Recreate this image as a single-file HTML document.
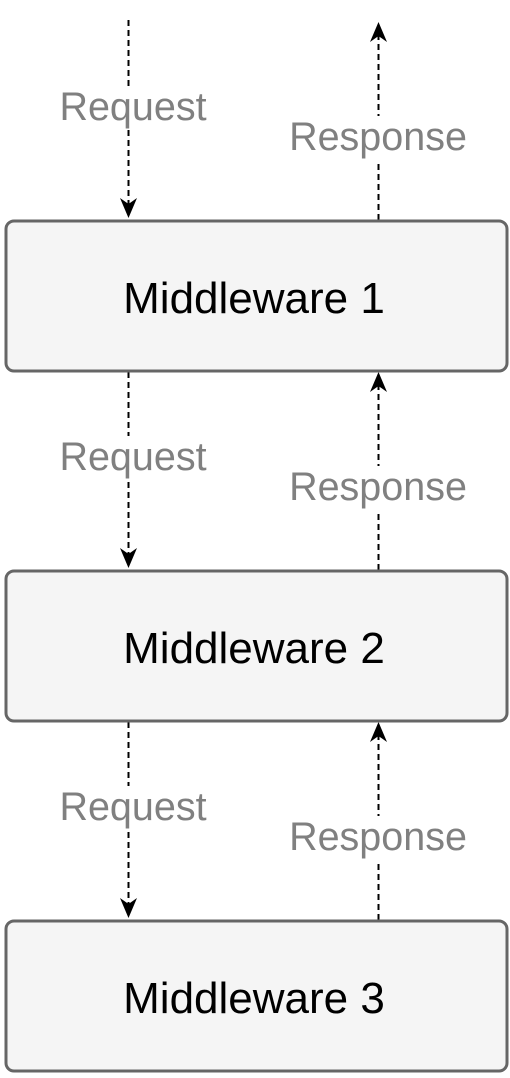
<!DOCTYPE html>
<html><head><meta charset="utf-8"><style>
html,body{margin:0;padding:0;background:#fff;}
svg{display:block;}
</style></head><body>
<svg width="510" height="1078" viewBox="0 0 510 1078" xmlns="http://www.w3.org/2000/svg">
<g stroke="#000" stroke-width="2" stroke-dasharray="6 4" fill="none">
  <line x1="128.5" y1="20" x2="128.5" y2="206"/>
  <line x1="378.5" y1="220" x2="378.5" y2="34"/>
  <line x1="128.5" y1="372" x2="128.5" y2="556"/>
  <line x1="378.5" y1="570" x2="378.5" y2="384"/>
  <line x1="128.5" y1="722" x2="128.5" y2="906"/>
  <line x1="378.5" y1="920" x2="378.5" y2="734"/>
</g>
<g fill="#000">
  <path d="M128.5 218 L120 198 L128.5 204 L137 198 Z"/>
  <path d="M378.5 22 L370 42 L378.5 36 L387 42 Z"/>
  <path d="M128.5 568 L120 548 L128.5 554 L137 548 Z"/>
  <path d="M378.5 372 L370 392 L378.5 386 L387 392 Z"/>
  <path d="M128.5 918 L120 898 L128.5 904 L137 898 Z"/>
  <path d="M378.5 722 L370 742 L378.5 736 L387 742 Z"/>
</g>
<g fill="#f5f5f5" stroke="#666" stroke-width="3">
  <rect x="6" y="221" width="501" height="150" rx="8"/>
  <rect x="6" y="571" width="501" height="150" rx="8"/>
  <rect x="6" y="921" width="501" height="150" rx="8"/>
</g>
<g font-family="Liberation Sans, Arial, sans-serif" font-size="39.5" fill="#808080" text-anchor="middle">
  <rect x="56" y="86" width="154" height="44" fill="#fff"/>
  <rect x="286" y="116" width="184" height="46" fill="#fff"/>
  <rect x="56" y="436" width="154" height="44" fill="#fff"/>
  <rect x="286" y="466" width="184" height="46" fill="#fff"/>
  <rect x="56" y="786" width="154" height="44" fill="#fff"/>
  <rect x="286" y="816" width="184" height="46" fill="#fff"/>
  <text x="133" y="120">Request</text>
  <text x="378" y="150">Response</text>
  <text x="133" y="470">Request</text>
  <text x="378" y="500">Response</text>
  <text x="133" y="820">Request</text>
  <text x="378" y="850">Response</text>
</g>
<g font-family="Liberation Sans, Arial, sans-serif" font-size="44" fill="#000" text-anchor="middle">
  <text x="254" y="313">Middleware 1</text>
  <text x="254" y="663">Middleware 2</text>
  <text x="254" y="1013">Middleware 3</text>
</g>
</svg>
</body></html>
